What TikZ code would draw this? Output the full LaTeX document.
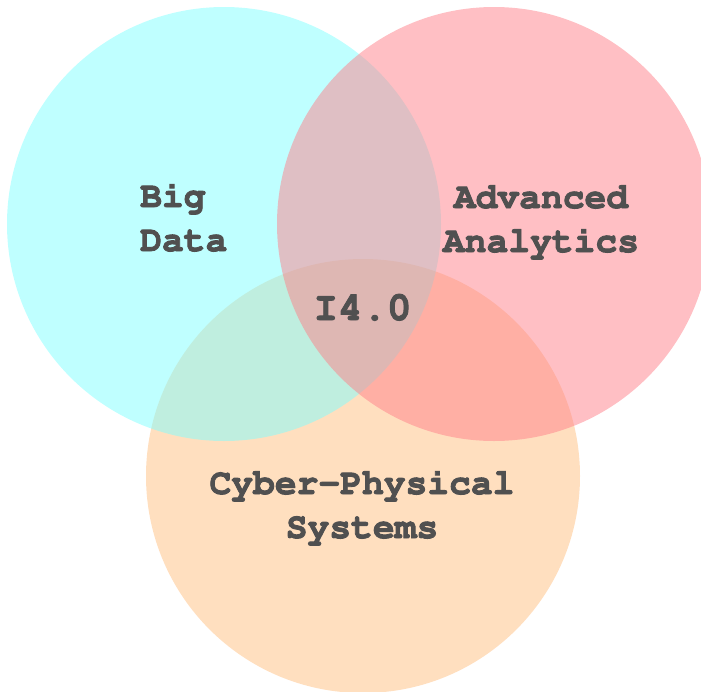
\documentclass[tikz,border=0pt]{standalone}
\usepackage[T1]{fontenc}
\usepackage{courier}
% heavier strokes for the labels: fill and outline the glyphs
\newcommand\heavytext[1]{\special{pdf:literal direct 2 Tr 0.9 w}#1\special{pdf:literal direct 0 Tr}}
\begin{document}
\begin{tikzpicture}[x=1pt,y=-1pt,
  setfill/.style={fill opacity=0.5, draw=none},
  setlabel/.style={font=\ttfamily\bfseries\fontsize{36.3}{44}\selectfont,
    text=labelgray, inner sep=0pt, anchor=base}]
\definecolor{cyanset}{RGB}{128,255,255}
\definecolor{pinkset}{RGB}{255,128,137}
\definecolor{orangeset}{RGB}{255,191,128}
\definecolor{labelgray}{RGB}{80,80,80}
\useasboundingbox (0,0) rectangle (701,691);
% the three sets
\fill[setfill, orangeset] (363,476) circle[radius=217pt];
\fill[setfill, cyanset]   (224,224) circle[radius=217pt];
\fill[setfill, pinkset]   (494,224) circle[radius=217pt];
% labels (anchored on the baseline of the last line)
\node[setlabel, align=left, anchor=base west] (bigdata) at (140,251) {\heavytext{Big}\\\heavytext{Data}};
\node[setlabel, align=center] (analytics) at (541,252) {\heavytext{Advanced}\\\heavytext{Analytics}};
\node[setlabel, align=center] (cps) at (362,538) {\heavytext{Cyber-Physical}\\\heavytext{Systems}};
\node[setlabel, font=\ttfamily\bfseries\fontsize{40.8}{48}\selectfont] (core) at (362.5,320) {\heavytext{I4.0}};
\end{tikzpicture}
\end{document}
